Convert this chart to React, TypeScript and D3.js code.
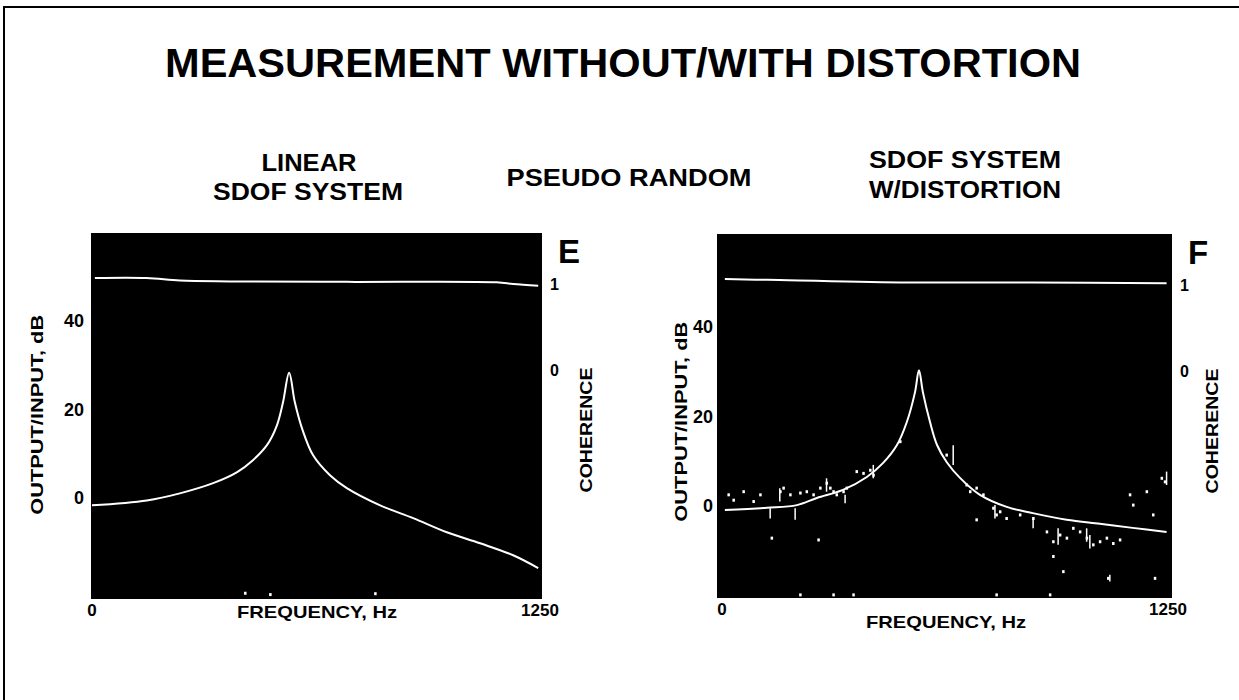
import React from 'react';
import * as d3 from 'd3';

// Frequency response (dB): [Hz, dB]
const linearFrf: [number, number][] = [
  [0, -1.6], [153, -0.5], [245, 1.1], [338, 3.4], [405, 5.9], [449, 8.6],
  [488, 12.0], [516, 16.5], [533, 21.7], [550, 28.4], [566, 21.7], [586, 15.8],
  [617, 9.7], [664, 5.2], [711, 2.3], [804, -1.6], [896, -4.5], [990, -7.7],
  [1083, -10.2], [1175, -12.9], [1245, -15.8],
];
const linearCoh: [number, number][] = [
  [8, 1.0], [152, 1.0], [245, 0.97], [385, 0.96], [711, 0.955], [1129, 0.95],
  [1175, 0.93], [1245, 0.91],
];
const linearSpecks: [number, number][] = [[427, -21.5], [497, -21.8], [790, -21.6]];

// SDOF system with distortion
const distFrf: [number, number][] = [
  [8, -0.9], [126, -0.4], [210, 0.2], [266, 1.8], [339, 3.6], [406, 6.5],
  [451, 9.6], [490, 13.6], [518, 18.8], [541, 25.5], [552, 30.4], [563, 25.5],
  [583, 18.8], [603, 13.6], [630, 9.8], [667, 6.3], [723, 2.5], [798, -0.2],
  [871, -1.6], [966, -3.1], [1059, -4.0], [1151, -4.9], [1246, -5.8],
];
const distCoh: [number, number][] = [
  [8, 1.0], [126, 0.99], [499, 0.96], [871, 0.96], [1246, 0.95],
];
const distNoise: [number, number][] = [
  [18, 2.5], [32, 1.3], [60, 3.2], [88, 1.0], [107, 2.5], [163, 3.2], [172, 4.0],
  [191, 2.5], [219, 2.9], [237, 3.2], [256, 2.5], [275, 4.0], [293, 5.1], [303, 4.0],
  [312, 3.2], [321, 2.5], [340, 3.2], [349, 4.0], [377, 7.7], [396, 7.3], [415, 8.0],
  [424, 6.9], [499, 14.4], [629, 11.4], [685, 4.7], [695, 3.2], [713, 4.0], [732, 2.5],
  [760, -0.5], [769, -2.0], [779, -1.3], [797, -2.8], [835, -2.0], [872, -2.8],
  [910, -5.8], [928, -8.0], [947, -6.5], [966, -7.2], [984, -5.0], [1003, -5.8],
  [1022, -7.2], [1040, -8.7], [1059, -8.0], [1078, -7.2], [1096, -8.4], [1115, -7.6],
  [1143, 2.5], [1152, 0.2], [1190, 3.2], [1208, -2.0], [1232, 6.2], [1241, 5.4],
  [139, -7.2], [270, -7.6], [713, -3.1], [928, -11.3], [956, -14.7], [1082, -16.2],
  [1213, -16.2], [219, -19.9], [312, -19.9], [368, -19.9], [769, -19.9], [919, -19.9],
];
const distSpikes: [number, number, number][] = [
  [942, -5, -8.7], [1022, -5, -8], [1031, -6.5, -9.5], [135, -0.5, -2.8],
  [205, -0.5, -3.1], [345, 2.5, 0.6], [765, 0.2, -2.8], [872, -2.8, -5],
  [1246, 7.7, 4.7], [1087, -15.4, -16.9], [162, 4, 1], [293, 6.2, 3.2],
  [424, 9.2, 6.2], [648, 13.6, 9.2],
];

const FREQ_TICKS = [0, 1250];
const DB_TICKS = [0, 20, 40];
const COH_TICKS = [0, 1];

const FONT = '"Liberation Sans", Arial, Helvetica, sans-serif';

interface PanelProps {
  box: { x: number; y: number; w: number; h: number };
  xRange: [number, number];
  dbDomain: [number, number];
  letter: string;
  frf: [number, number][];
  coh: [number, number][];
  noise?: [number, number][];
  spikes?: [number, number, number][];
  freqLabelY: number;
  tickLabelX: number;
  dbLabelX: number;
  cohLabelDx: number;
}

function Panel({ box, xRange, dbDomain, letter, frf, coh, noise = [], spikes = [], freqLabelY, tickLabelX, dbLabelX, cohLabelDx }: PanelProps) {
  const x = d3.scaleLinear().domain([0, 1250]).range(xRange);
  const y = d3.scaleLinear().domain(dbDomain).range([box.y + box.h, box.y]);
  const yc = d3.scaleLinear().domain([0, 1]).range([box.y + 131, box.y + 45]);

  const line = d3.line<[number, number]>()
    .x(d => x(d[0]))
    .y(d => y(d[1]))
    .curve(d3.curveCatmullRom.alpha(0.5));
  const cohLine = d3.line<[number, number]>()
    .x(d => x(d[0]))
    .y(d => yc(d[1]))
    .curve(d3.curveCatmullRom.alpha(0.5));

  const right = box.x + box.w;
  const label = { fontFamily: FONT, fontWeight: 700 as const, fill: '#000' };

  return (
    <g>
      <rect x={box.x} y={box.y} width={box.w} height={box.h} fill="#000" />
      <path d={cohLine(coh) || ''} fill="none" stroke="#fff" strokeWidth={2} />
      {spikes.map((s, i) => (
        <line key={'s' + i} x1={x(s[0])} x2={x(s[0])} y1={y(s[1])} y2={y(s[2])} stroke="#fff" strokeWidth={1.5} />
      ))}
      {noise.map((p, i) => (
        <rect key={'n' + i} x={x(p[0]) - 1} y={y(p[1]) - 1.5} width={2.5} height={3} fill="#fff" />
      ))}
      <path d={line(frf) || ''} fill="none" stroke="#fff" strokeWidth={2} />

      {/* dB axis labels */}
      {DB_TICKS.map(t => (
        <text key={t} x={tickLabelX} y={y(t) + 6} textAnchor="end" fontSize={18} {...label}>{t}</text>
      ))}
      <text
        transform={`translate(${dbLabelX},${y(20) + 5}) rotate(-90)`}
        textAnchor="middle" fontSize={17} textLength={200} lengthAdjust="spacingAndGlyphs" {...label}
      >OUTPUT/INPUT, dB</text>

      {/* coherence axis */}
      {COH_TICKS.map(t => (
        <text key={t} x={right + 8} y={yc(t) + 12} fontSize={16} {...label}>{t}</text>
      ))}
      <text
        transform={`translate(${right + cohLabelDx},${box.y + 197}) rotate(-90)`}
        textAnchor="middle" fontSize={17} textLength={125} lengthAdjust="spacingAndGlyphs" {...label}
      >COHERENCE</text>
      <text x={right + 16} y={box.y + 30} fontSize={33} {...label}>{letter}</text>

      {/* frequency axis */}
      {FREQ_TICKS.map(t => (
        <text key={t} x={x(t)} y={box.y + box.h + 17} textAnchor="middle" fontSize={17} {...label}>{t}</text>
      ))}
      <text x={(xRange[0] + xRange[1]) / 2 + 1} y={freqLabelY} textAnchor="middle" fontSize={17}
        textLength={160} lengthAdjust="spacingAndGlyphs" {...label}>FREQUENCY, Hz</text>
    </g>
  );
}

export default function App() {
  const width = 1239;
  const height = 700;
  const txt = { fontFamily: FONT, fontWeight: 700 as const, fill: '#000', textAnchor: 'middle' as const, lengthAdjust: 'spacingAndGlyphs' };

  return (
    <svg width={width} height={height} style={{ position: 'absolute', left: 0, top: 0, background: '#fff' }}>
      <path d={`M4,${height} V7 H${width}`} fill="none" stroke="#000" strokeWidth={2} />

      <text x={623} y={77} fontSize={40} textLength={916} {...txt}>MEASUREMENT WITHOUT/WITH DISTORTION</text>

      <text x={309} y={171} fontSize={23} textLength={95} {...txt}>LINEAR</text>
      <text x={308} y={200} fontSize={23} textLength={190} {...txt}>SDOF SYSTEM</text>
      <text x={629} y={186} fontSize={23} textLength={245} {...txt}>PSEUDO RANDOM</text>
      <text x={965} y={168} fontSize={23} textLength={192} {...txt}>SDOF SYSTEM</text>
      <text x={965} y={198} fontSize={23} textLength={192} {...txt}>W/DISTORTION</text>

      <Panel
        box={{ x: 91, y: 233, w: 451, h: 366 }}
        xRange={[92, 540]}
        dbDomain={[-22.8, 60]}
        letter="E"
        frf={linearFrf}
        coh={linearCoh}
        noise={linearSpecks}
        freqLabelY={618}
        tickLabelX={84}
        dbLabelX={43}
        cohLabelDx={50}
      />
      <Panel
        box={{ x: 717, y: 234, w: 455, h: 364 }}
        xRange={[722, 1168]}
        dbDomain={[-20.6, 60.9]}
        letter="F"
        frf={distFrf}
        coh={distCoh}
        noise={distNoise}
        spikes={distSpikes}
        freqLabelY={628}
        tickLabelX={713}
        dbLabelX={687}
        cohLabelDx={46}
      />
    </svg>
  );
}
